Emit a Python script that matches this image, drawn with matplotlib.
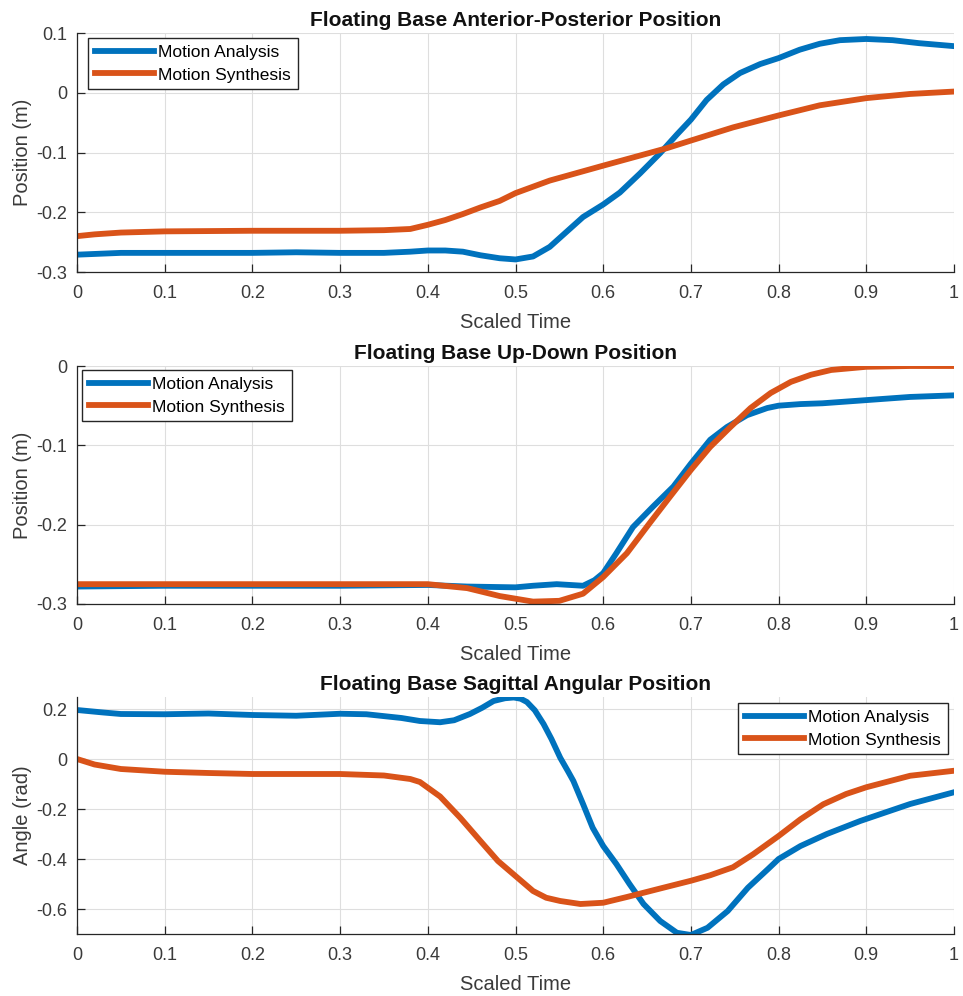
import matplotlib
matplotlib.use('Agg')
import matplotlib.pyplot as plt

plt.rcParams['font.family'] = ['Liberation Sans', 'DejaVu Sans']
plt.rcParams['axes.unicode_minus'] = False

BLUE = '#0072BD'
ORANGE = '#D95319'
TXT = '#262626'

# anterior-posterior position
t_ap_ma = [0, 0.05, 0.1, 0.15, 0.2, 0.25, 0.3, 0.35, 0.38, 0.4, 0.42, 0.44, 0.46, 0.482, 0.5,
           0.52, 0.539, 0.558, 0.577, 0.6, 0.619, 0.642, 0.665, 0.684, 0.7, 0.718, 0.737, 0.756,
           0.779, 0.8, 0.824, 0.847, 0.87, 0.9, 0.93, 0.96, 1.0]
ap_ma = [-0.271, -0.268, -0.268, -0.268, -0.268, -0.267, -0.268, -0.268, -0.266, -0.264, -0.264,
         -0.266, -0.272, -0.277, -0.279, -0.274, -0.258, -0.233, -0.208, -0.187, -0.167, -0.135,
         -0.101, -0.07, -0.045, -0.012, 0.014, 0.033, 0.048, 0.058, 0.072, 0.082, 0.088, 0.09,
         0.088, 0.083, 0.078]
t_ap_ms = [0, 0.02, 0.05, 0.1, 0.2, 0.3, 0.35, 0.38, 0.4, 0.42, 0.44, 0.46, 0.482, 0.5, 0.539,
           0.6, 0.672, 0.7, 0.748, 0.8, 0.847, 0.9, 0.95, 1.0]
ap_ms = [-0.24, -0.237, -0.234, -0.232, -0.231, -0.231, -0.23, -0.228, -0.221, -0.213, -0.203,
         -0.192, -0.181, -0.168, -0.147, -0.122, -0.093, -0.08, -0.058, -0.038, -0.021, -0.009,
         -0.002, 0.002]

# up-down position
t_ud_ma = [0, 0.1, 0.2, 0.3, 0.4, 0.445, 0.5, 0.52, 0.547, 0.577, 0.59, 0.6, 0.615, 0.634, 0.657,
           0.68, 0.7, 0.722, 0.741, 0.764, 0.787, 0.8, 0.825, 0.85, 0.9, 0.95, 1.0]
ud_ma = [-0.278, -0.277, -0.277, -0.277, -0.276, -0.278, -0.279, -0.277, -0.275, -0.277, -0.27,
         -0.261, -0.236, -0.203, -0.177, -0.152, -0.123, -0.093, -0.077, -0.062, -0.053, -0.05,
         -0.048, -0.047, -0.043, -0.039, -0.037]
t_ud_ms = [0, 0.1, 0.2, 0.3, 0.4, 0.445, 0.482, 0.52, 0.55, 0.577, 0.6, 0.627, 0.653, 0.676, 0.7,
           0.722, 0.745, 0.768, 0.791, 0.814, 0.837, 0.86, 0.9, 0.95, 1.0]
ud_ms = [-0.275, -0.275, -0.275, -0.275, -0.275, -0.28, -0.29, -0.297, -0.296, -0.287, -0.266,
         -0.236, -0.198, -0.165, -0.131, -0.102, -0.077, -0.053, -0.034, -0.02, -0.011, -0.005,
         -0.001, 0.0, 0.0]

# sagittal angle
t_sa_ma = [0, 0.03, 0.05, 0.1, 0.15, 0.2, 0.25, 0.3, 0.33, 0.37, 0.391, 0.414, 0.43, 0.448,
           0.462, 0.475, 0.488, 0.498, 0.506, 0.513, 0.522, 0.532, 0.541, 0.551, 0.56, 0.566,
           0.577, 0.588, 0.6, 0.615, 0.63, 0.646, 0.665, 0.684, 0.7, 0.719, 0.742, 0.765, 0.788,
           0.8, 0.825, 0.855, 0.893, 0.95, 1.0]
sa_ma = [0.196, 0.186, 0.18, 0.179, 0.182, 0.176, 0.173, 0.181, 0.179, 0.164, 0.152, 0.147,
         0.155, 0.18, 0.205, 0.232, 0.243, 0.246, 0.241, 0.228, 0.195, 0.14, 0.08, 0.005, -0.05,
         -0.088, -0.18, -0.275, -0.348, -0.42, -0.5, -0.58, -0.648, -0.695, -0.704, -0.675,
         -0.608, -0.515, -0.44, -0.4, -0.348, -0.3, -0.248, -0.18, -0.133]
t_sa_ms = [0, 0.02, 0.05, 0.1, 0.15, 0.2, 0.3, 0.35, 0.38, 0.391, 0.414, 0.437, 0.46, 0.48, 0.5,
           0.52, 0.535, 0.551, 0.574, 0.6, 0.627, 0.665, 0.7, 0.722, 0.748, 0.771, 0.8, 0.825,
           0.851, 0.877, 0.9, 0.95, 1.0]
sa_ms = [0.0, -0.022, -0.04, -0.051, -0.056, -0.06, -0.06, -0.066, -0.08, -0.092, -0.15, -0.235,
         -0.328, -0.408, -0.468, -0.528, -0.555, -0.568, -0.58, -0.575, -0.552, -0.518, -0.487,
         -0.465, -0.433, -0.381, -0.308, -0.241, -0.181, -0.14, -0.113, -0.067, -0.047]

xticks = [0, 0.1, 0.2, 0.3, 0.4, 0.5, 0.6, 0.7, 0.8, 0.9, 1]
xtick_labels = ['0', '0.1', '0.2', '0.3', '0.4', '0.5', '0.6', '0.7', '0.8', '0.9', '1']

panels = [
    dict(title='Floating Base Anterior-Posterior Position', ylabel='Position (m)',
         ma=(t_ap_ma, ap_ma), ms=(t_ap_ms, ap_ms), ylim=(-0.3, 0.1),
         yticks=[-0.3, -0.2, -0.1, 0, 0.1], ylabels=['-0.3', '-0.2', '-0.1', '0', '0.1'],
         loc='upper left', anchor=(11, 5), rect=[77, 33, 954, 272]),
    dict(title='Floating Base Up-Down Position', ylabel='Position (m)',
         ma=(t_ud_ma, ud_ma), ms=(t_ud_ms, ud_ms), ylim=(-0.3, 0),
         yticks=[-0.3, -0.2, -0.1, 0], ylabels=['-0.3', '-0.2', '-0.1', '0'],
         loc='upper left', anchor=(5, 4), rect=[77, 366, 954, 604]),
    dict(title='Floating Base Sagittal Angular Position', ylabel='Angle (rad)',
         ma=(t_sa_ma, sa_ma), ms=(t_sa_ms, sa_ms), ylim=(-0.7, 0.248),
         yticks=[-0.6, -0.4, -0.2, 0, 0.2], ylabels=['-0.6', '-0.4', '-0.2', '0', '0.2'],
         loc='upper right', anchor=(-6, 6), rect=[77, 697, 954, 934]),
]

W, H = 963, 996
fig = plt.figure(figsize=(W / 100, H / 100), dpi=100)

for p in panels:
    x0, y0, x1, y1 = p['rect']
    aw, ah = x1 - x0, y1 - y0
    ax = fig.add_axes([x0 / W, 1 - y1 / H, aw / W, ah / H])
    ax.plot(*p['ma'], color=BLUE, lw=4.2, label='Motion Analysis')
    ax.plot(*p['ms'], color=ORANGE, lw=4.2, label='Motion Synthesis')
    ax.set_xlim(0, 1)
    ax.set_ylim(*p['ylim'])
    ax.set_xticks(xticks)
    ax.set_xticklabels(xtick_labels)
    ax.set_yticks(p['yticks'])
    ax.set_yticklabels(p['ylabels'])
    ax.grid(True, color='#dedede', lw=0.8)
    ax.set_axisbelow(True)
    for s in ['top', 'right']:
        ax.spines[s].set_visible(False)
    for s in ['left', 'bottom']:
        ax.spines[s].set_color(TXT)
        ax.spines[s].set_linewidth(0.9)
    ax.tick_params(direction='in', length=6, width=0.9, color=TXT, labelcolor='#3a3a3a',
                   labelsize=13)
    ax.tick_params(axis='x', pad=9)
    ax.tick_params(axis='y', pad=7)
    ax.set_title(p['title'], fontsize=15, fontweight='bold', color='#111111', pad=5)
    ax.set_xlabel('Scaled Time', fontsize=14.5, color='#3a3a3a', labelpad=8)
    ax.set_ylabel(p['ylabel'], fontsize=14.5, color='#3a3a3a', labelpad=3)

    # legend placed a few pixels in from the corner of the axes
    dx, dy = p['anchor']
    ax_x = 1.0 + dx / aw if dx < 0 else dx / aw
    leg = ax.legend(loc=p['loc'], bbox_to_anchor=(ax_x, 1 - dy / ah), borderaxespad=0,
                    fontsize=12.5, fancybox=False, framealpha=1, edgecolor='#262626',
                    handlelength=3.4, handletextpad=0.25, borderpad=0.4, labelspacing=0.42)
    leg.get_frame().set_linewidth(1.0)

fig.savefig('out.png', dpi=100)
